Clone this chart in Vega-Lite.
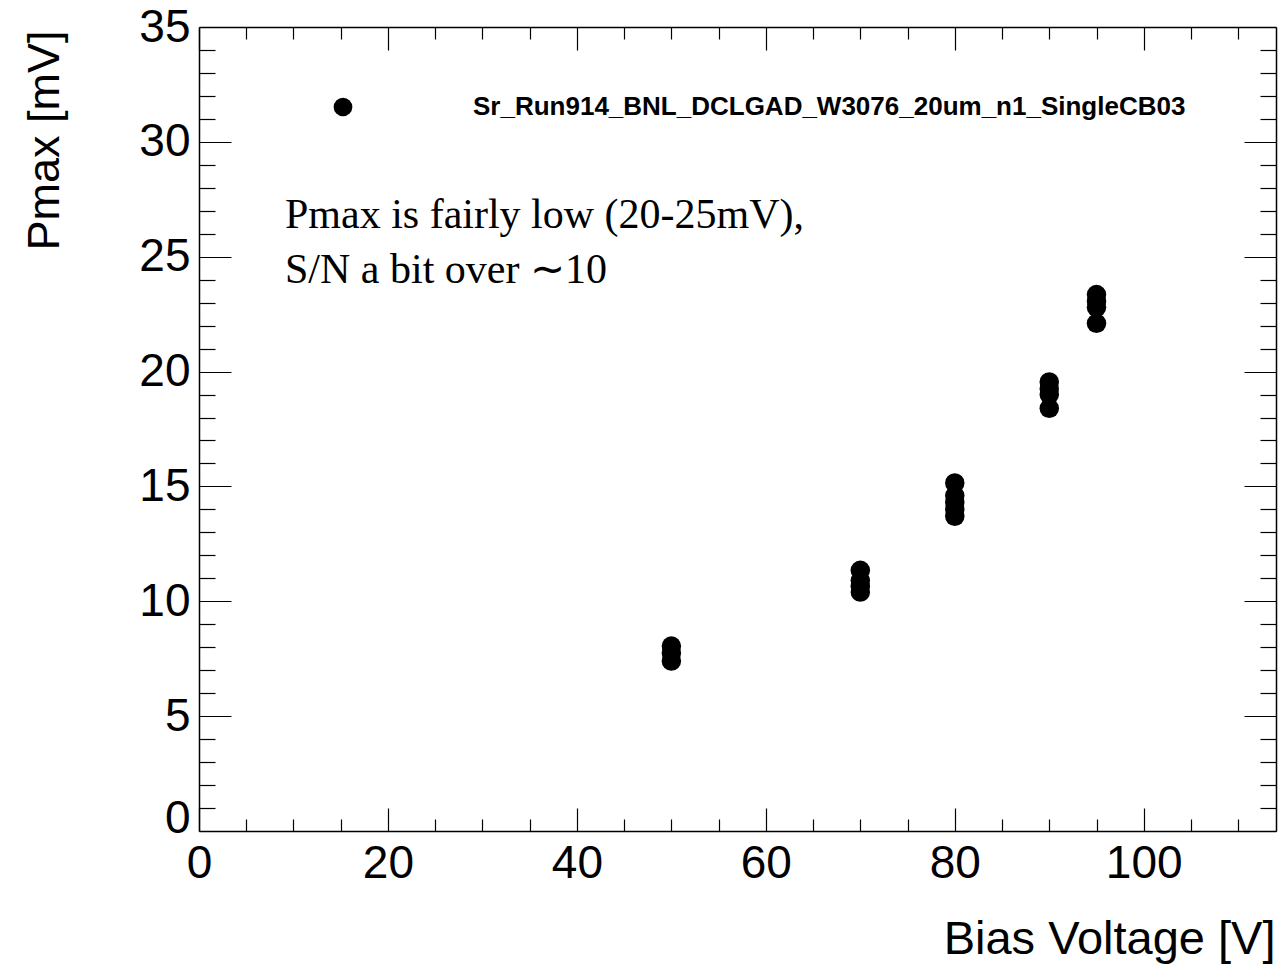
{
  "$schema": "https://vega.github.io/schema/vega-lite/v6.json",
  "width": 1077,
  "height": 804,
  "autosize": {"type": "none"},
  "padding": {"left": 199, "top": 27, "right": 5, "bottom": 138},
  "background": "white",
  "config": {
    "view": {"stroke": null},
    "font": "Liberation Sans",
    "axis": {
      "grid": false,
      "domainColor": "black",
      "domainWidth": 1.5,
      "tickColor": "black",
      "tickWidth": 1.2,
      "labelColor": "black",
      "titleColor": "black",
      "labelFont": "Liberation Sans",
      "titleFont": "Liberation Sans",
      "titleFontWeight": "normal",
      "labelFontSize": 46,
      "titleFontSize": 47
    }
  },
  "datasets": {
    "points": [
      {"voltage": 50, "pmax": 8.05, "run": "Sr_Run914_BNL_DCLGAD_W3076_20um_n1_SingleCB03"},
      {"voltage": 50, "pmax": 7.75, "run": "Sr_Run914_BNL_DCLGAD_W3076_20um_n1_SingleCB03"},
      {"voltage": 50, "pmax": 7.4, "run": "Sr_Run914_BNL_DCLGAD_W3076_20um_n1_SingleCB03"},
      {"voltage": 70, "pmax": 11.35, "run": "Sr_Run914_BNL_DCLGAD_W3076_20um_n1_SingleCB03"},
      {"voltage": 70, "pmax": 10.9, "run": "Sr_Run914_BNL_DCLGAD_W3076_20um_n1_SingleCB03"},
      {"voltage": 70, "pmax": 10.65, "run": "Sr_Run914_BNL_DCLGAD_W3076_20um_n1_SingleCB03"},
      {"voltage": 70, "pmax": 10.4, "run": "Sr_Run914_BNL_DCLGAD_W3076_20um_n1_SingleCB03"},
      {"voltage": 80, "pmax": 15.15, "run": "Sr_Run914_BNL_DCLGAD_W3076_20um_n1_SingleCB03"},
      {"voltage": 80, "pmax": 14.6, "run": "Sr_Run914_BNL_DCLGAD_W3076_20um_n1_SingleCB03"},
      {"voltage": 80, "pmax": 14.3, "run": "Sr_Run914_BNL_DCLGAD_W3076_20um_n1_SingleCB03"},
      {"voltage": 80, "pmax": 14.0, "run": "Sr_Run914_BNL_DCLGAD_W3076_20um_n1_SingleCB03"},
      {"voltage": 80, "pmax": 13.7, "run": "Sr_Run914_BNL_DCLGAD_W3076_20um_n1_SingleCB03"},
      {"voltage": 90, "pmax": 19.55, "run": "Sr_Run914_BNL_DCLGAD_W3076_20um_n1_SingleCB03"},
      {"voltage": 90, "pmax": 19.25, "run": "Sr_Run914_BNL_DCLGAD_W3076_20um_n1_SingleCB03"},
      {"voltage": 90, "pmax": 19.0, "run": "Sr_Run914_BNL_DCLGAD_W3076_20um_n1_SingleCB03"},
      {"voltage": 90, "pmax": 18.4, "run": "Sr_Run914_BNL_DCLGAD_W3076_20um_n1_SingleCB03"},
      {"voltage": 95, "pmax": 23.35, "run": "Sr_Run914_BNL_DCLGAD_W3076_20um_n1_SingleCB03"},
      {"voltage": 95, "pmax": 23.05, "run": "Sr_Run914_BNL_DCLGAD_W3076_20um_n1_SingleCB03"},
      {"voltage": 95, "pmax": 22.8, "run": "Sr_Run914_BNL_DCLGAD_W3076_20um_n1_SingleCB03"},
      {"voltage": 95, "pmax": 22.1, "run": "Sr_Run914_BNL_DCLGAD_W3076_20um_n1_SingleCB03"}
    ],
    "notes": [
      {"voltage": 9.1, "pmax": 26.25, "note": "Pmax is fairly low (20-25mV),"},
      {"voltage": 9.1, "pmax": 23.85, "note": "S/N a bit over ∼10"}
    ]
  },
  "layer": [
    {
      "data": {"name": "points"},
      "mark": {"type": "point", "filled": true, "shape": "circle", "size": 380, "opacity": 1},
      "encoding": {
        "x": {
          "field": "voltage", "type": "quantitative",
          "scale": {"domain": [0, 114], "nice": false, "zero": false},
          "axis": {
            "orient": "bottom", "values": [0, 20, 40, 60, 80, 100], "tickSize": -23,
            "labelPadding": 33, "labelFlush": false, "labelOverlap": false,
            "title": "Bias Voltage [V]", "titleX": 1076, "titleY": 122,
            "titleAlign": "right", "titleBaseline": "alphabetic", "titleAnchor": null
          }
        },
        "y": {
          "field": "pmax", "type": "quantitative",
          "scale": {"domain": [0, 35], "nice": false, "zero": false},
          "axis": {
            "orient": "left", "values": [0, 5, 10, 15, 20, 25, 30, 35], "tickSize": -32,
            "labelPadding": 41, "labelFlush": false, "labelOverlap": false,
            "labelOffset": {"expr": "datum.value === 0 ? -13 : 0"},
            "title": "Pmax [mV]", "titleFontSize": 45, "titleX": -141, "titleY": 3, "titleAngle": -90,
            "titleAlign": "right", "titleBaseline": "alphabetic", "titleAnchor": null
          }
        },
        "color": {
          "field": "run", "type": "nominal",
          "scale": {"range": ["black"]},
          "legend": {
            "orient": "none", "legendX": 131, "legendY": 67, "title": null,
            "padding": 0, "symbolType": "circle", "symbolSize": 350, "symbolStrokeWidth": 0,
            "labelFont": "Liberation Sans", "labelFontWeight": "bold", "labelFontSize": 26,
            "labelColor": "black", "labelOffset": 117, "labelLimit": 0
          }
        }
      }
    },
    {
      "data": {"name": "points"},
      "mark": {"type": "point", "opacity": 0},
      "encoding": {
        "x": {
          "field": "voltage", "type": "quantitative",
          "scale": {"domain": [0, 114], "nice": false, "zero": false},
          "axis": {
            "orient": "bottom", "values": [5, 10, 15, 25, 30, 35, 45, 50, 55, 65, 70, 75, 85, 90, 95, 105, 110],
            "tickSize": -12, "labels": false, "domain": false, "title": null
          }
        },
        "y": {
          "field": "pmax", "type": "quantitative",
          "scale": {"domain": [0, 35], "nice": false, "zero": false},
          "axis": {
            "orient": "left", "values": [1, 2, 3, 4, 6, 7, 8, 9, 11, 12, 13, 14, 16, 17, 18, 19, 21, 22, 23, 24, 26, 27, 28, 29, 31, 32, 33, 34],
            "tickSize": -16, "labels": false, "domain": false, "title": null
          }
        }
      }
    },
    {
      "data": {"name": "points"},
      "mark": {"type": "point", "opacity": 0},
      "encoding": {
        "x": {
          "field": "voltage", "type": "quantitative",
          "scale": {"domain": [0, 114], "nice": false, "zero": false},
          "axis": {
            "orient": "top", "values": [0, 20, 40, 60, 80, 100],
            "tickSize": -23, "labels": false, "title": null
          }
        },
        "y": {
          "field": "pmax", "type": "quantitative",
          "scale": {"domain": [0, 35], "nice": false, "zero": false},
          "axis": {
            "orient": "right", "values": [0, 5, 10, 15, 20, 25, 30, 35],
            "tickSize": -32, "labels": false, "title": null
          }
        }
      }
    },
    {
      "data": {"name": "points"},
      "mark": {"type": "point", "opacity": 0},
      "encoding": {
        "x": {
          "field": "voltage", "type": "quantitative",
          "scale": {"domain": [0, 114], "nice": false, "zero": false},
          "axis": {
            "orient": "top", "values": [5, 10, 15, 25, 30, 35, 45, 50, 55, 65, 70, 75, 85, 90, 95, 105, 110],
            "tickSize": -12, "labels": false, "domain": false, "title": null
          }
        },
        "y": {
          "field": "pmax", "type": "quantitative",
          "scale": {"domain": [0, 35], "nice": false, "zero": false},
          "axis": {
            "orient": "right", "values": [1, 2, 3, 4, 6, 7, 8, 9, 11, 12, 13, 14, 16, 17, 18, 19, 21, 22, 23, 24, 26, 27, 28, 29, 31, 32, 33, 34],
            "tickSize": -16, "labels": false, "domain": false, "title": null
          }
        }
      }
    },
    {
      "data": {"name": "notes"},
      "mark": {"type": "text", "font": "Liberation Serif", "fontSize": 42, "align": "left", "baseline": "alphabetic", "color": "black"},
      "encoding": {
        "x": {"field": "voltage", "type": "quantitative", "scale": {"domain": [0, 114], "nice": false, "zero": false}, "axis": null},
        "y": {"field": "pmax", "type": "quantitative", "scale": {"domain": [0, 35], "nice": false, "zero": false}, "axis": null},
        "text": {"field": "note"}
      }
    }
  ],
  "resolve": {"axis": {"x": "independent", "y": "independent"}}
}
